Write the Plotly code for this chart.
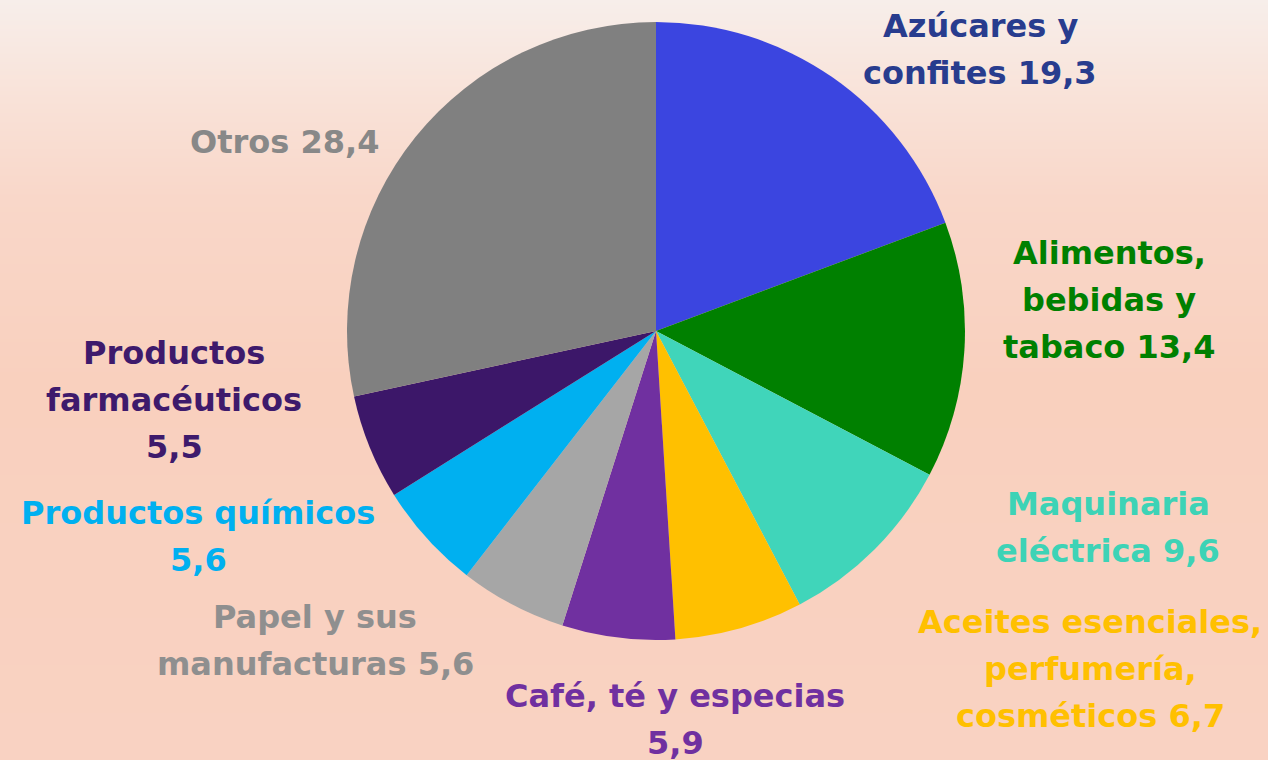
import plotly.graph_objects as go

# ---- data ----
labels = [
    "Azúcares y confites",
    "Alimentos, bebidas y tabaco",
    "Maquinaria eléctrica",
    "Aceites esenciales, perfumería, cosméticos",
    "Café, té y especias",
    "Papel y sus manufacturas",
    "Productos químicos",
    "Productos farmacéuticos",
    "Otros",
]
values = [19.3, 13.4, 9.6, 6.7, 5.9, 5.6, 5.6, 5.5, 28.4]
label_lines = [
    ["Azúcares y", "confites {v}"],
    ["Alimentos,", "bebidas y", "tabaco {v}"],
    ["Maquinaria", "eléctrica {v}"],
    ["Aceites esenciales,", "perfumería,", "cosméticos {v}"],
    ["Café, té y especias", "{v}"],
    ["Papel y sus", "manufacturas {v}"],
    ["Productos químicos", "{v}"],
    ["Productos", "farmacéuticos", "{v}"],
    ["Otros {v}"],
]

# ---- styles ----
slice_colors = ["#3B45E0", "#008000", "#40D5BA", "#FFC000", "#7030A0",
                "#A6A6A6", "#00B0F0", "#3C1769", "#808080"]
text_colors = ["#283C8E", "#008000", "#3DD3B6", "#FFC000", "#7030A0",
               "#8F8F8F", "#00B0F0", "#3E1A6C", "#888888"]
# first-line centre of each label (pixels from top-left)
label_pos = [(980, 26), (1109, 253), (1108, 504), (1090, 622), (675, 696),
             (315, 617), (198, 513), (174, 353), (284, 142)]
line_gap = 47
W, H = 1268, 760

bg_y = [-0.1, 0.0, 0.5, 0.74, 0.87, 1.0, 1.1]
bg_colors = ["#F9D2C2", "#F9D2C2", "#F9D0BE", "#F9D7C9", "#F9E2D8", "#F7EEEA", "#F7EEEA"]

fig = go.Figure()

# gradient background
n = len(bg_y)
fig.add_trace(go.Heatmap(
    x=[-0.1, 1.1], y=bg_y, z=[[i, i] for i in range(n)],
    colorscale=[[i / (n - 1), c] for i, c in enumerate(bg_colors)],
    zsmooth="best", showscale=False, hoverinfo="skip",
))

fig.add_trace(go.Pie(
    labels=labels, values=values, sort=False, direction="clockwise",
    rotation=0, marker=dict(colors=slice_colors, line=dict(width=0)),
    textinfo="none", hoverinfo="label+value", showlegend=False,
    domain=dict(x=[347 / W, 965 / W], y=[1 - 640 / H, 1 - 22 / H]),
))

annotations = []
for lines, v, col, (px, py) in zip(label_lines, values, text_colors, label_pos):
    vs = f"{v:.1f}".replace(".", ",")
    for k, ln in enumerate(lines):
        annotations.append(dict(
            text=ln.format(v=vs), x=px / W, y=1 - (py + k * line_gap) / H,
            xref="paper", yref="paper", xanchor="center", yanchor="middle",
            showarrow=False,
            font=dict(family="DejaVu Sans", size=32, color=col, weight="bold"),
        ))

fig.update_layout(
    width=W, height=H, margin=dict(l=0, r=0, t=0, b=0),
    paper_bgcolor="#F9D2C2", plot_bgcolor="#F9D2C2",
    xaxis=dict(visible=False, range=[0, 1], domain=[0, 1], fixedrange=True),
    yaxis=dict(visible=False, range=[0, 1], domain=[0, 1], fixedrange=True),
    annotations=annotations,
)

fig.write_html("out.html", config={"displayModeBar": False},
               post_script="document.body.style.margin='0px';document.body.style.overflow='hidden';")
